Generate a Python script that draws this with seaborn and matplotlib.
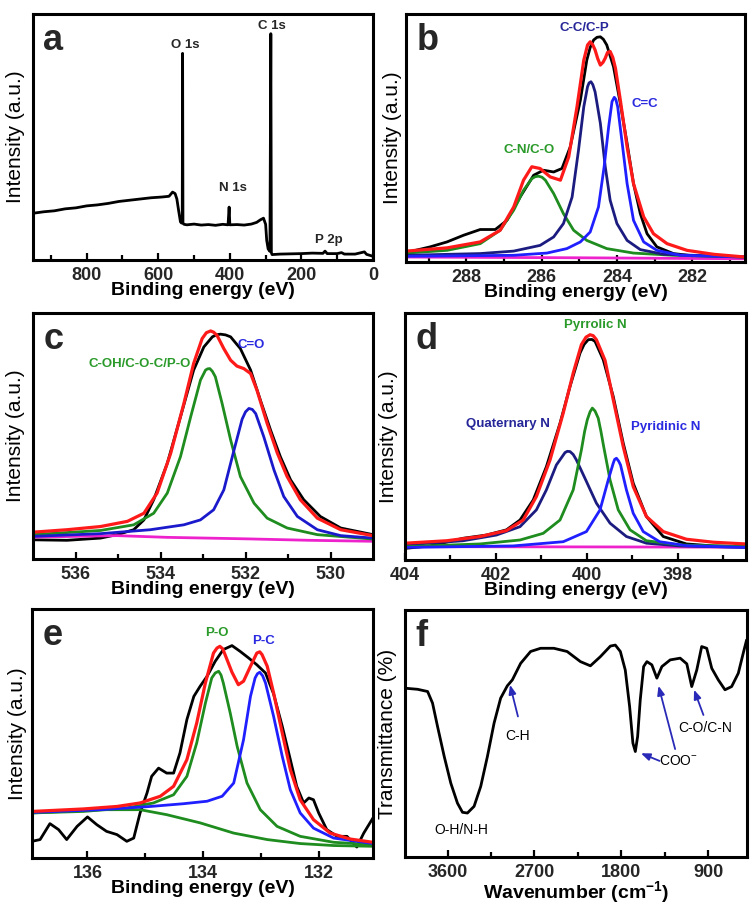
import matplotlib
matplotlib.use("Agg")
import matplotlib.pyplot as plt
import seaborn as sns

# ---------------- data (y in % of panel height) -------------
# (a) survey spectrum
A_X = [950, 920, 890, 860, 830, 800, 770, 740, 710, 680, 650, 620, 590, 570, 560, 553, 548,
       543, 538, 535, 533, 532, 531, 528, 520, 500, 480, 460, 440, 420, 405, 402, 400, 380,
       360, 340, 325, 315, 306, 300, 297, 293, 288, 285.5, 284, 282, 260, 230, 200, 170,
       140, 134, 128, 100, 88, 80, 50, 24, 18, 0]
A_Y = [19.0, 19.6, 20.0, 20.8, 21.2, 22.0, 22.4, 23.0, 23.8, 24.3, 24.8, 25.3, 25.6, 25.9,
       27.6, 27.0, 24.8, 20.0, 15.5, 15.0, 15.2, 84.0, 15.0, 14.5, 14.3, 14.6, 14.2, 14.4,
       14.1, 14.5, 14.3, 21.5, 14.3, 14.4, 14.2, 14.6, 15.3, 16.3, 17.0, 14.5, 8.0, 4.5, 3.5,
       92.0, 3.0, 2.2, 2.4, 2.5, 2.6, 2.8, 2.7, 3.6, 2.6, 2.6, 3.0, 2.4, 2.4, 3.3, 2.3, 1.5]
A_LABELS = ["O 1s", "C 1s", "N 1s", "P 2p"]
A_LABEL_X = [524.8, 282.4, 392.4, 124]
A_LABEL_Y = [87.4, 95.1, 29.1, 8.1]

# (b) C 1s
B_DATA_X = [289.35, 288.96, 288.51, 288.07, 287.63, 287.23, 286.92, 286.57, 286.21, 285.95,
            285.68, 285.46, 285.24, 284.97, 284.80, 284.71, 284.62, 284.53, 284.44, 284.36,
            284.27, 284.09, 283.91, 283.73, 283.56, 283.38, 283.20, 282.94, 282.50, 281.88,
            280.59]
B_DATA_Y = [4.7, 6.1, 8.1, 10.8, 13.1, 13.1, 16.8, 26.2, 35.0, 37.0, 36.3, 37.7, 46.4, 65.3,
            81.4, 86.5, 89.5, 90.6, 90.8, 89.8, 87.5, 78.7, 63.9, 47.8, 31.6, 19.5, 11.4, 6.1,
            3.4, 2.3, 1.7]
B_FIT_X = [289.59, 288.51, 287.63, 287.10, 286.74, 286.48, 286.26, 286.04, 285.77, 285.50,
           285.28, 285.06, 284.88, 284.78, 284.71, 284.64, 284.58, 284.51, 284.44, 284.37,
           284.31, 284.25, 284.18, 284.11, 284.04, 283.91, 283.73, 283.56, 283.29, 283.03,
           282.67, 282.14, 281.43, 280.59]
B_FIT_Y = [4.4, 5.7, 8.1, 12.8, 22.2, 33.0, 38.4, 37.7, 34.3, 33.0, 42.4, 62.6, 81.4, 87.5,
           88.8, 87.5, 85.5, 82.0, 79.4, 80.5, 82.2, 84.5, 84.9, 82.5, 78.2, 65.3, 46.4, 31.6,
           18.2, 11.4, 7.4, 4.7, 3.1, 2.0]
B_CN_X = [289.59, 288.51, 287.63, 287.10, 286.74, 286.48, 286.26, 286.17, 286.08, 285.99,
          285.90, 285.68, 285.42, 285.15, 284.80, 284.27, 283.56, 282.50, 280.59]
B_CN_Y = [3.6, 4.7, 7.4, 12.8, 20.9, 28.9, 33.6, 34.4, 34.6, 34.2, 33.0, 27.6, 19.5, 12.8,
          8.7, 5.4, 3.6, 2.7, 2.0]
B_CC_X = [289.59, 287.63, 286.74, 286.04, 285.68, 285.42, 285.19, 285.02, 284.88, 284.78,
          284.74, 284.69, 284.64, 284.58, 284.44, 284.31, 284.18, 284.00, 283.73, 283.38,
          282.76, 280.59]
B_CC_Y = [2.7, 3.4, 4.4, 6.7, 10.1, 15.5, 26.2, 45.1, 62.6, 70.7, 72.2, 72.7, 71.5, 68.6,
          55.9, 38.4, 24.9, 15.5, 8.7, 5.0, 3.1, 2.0]
B_CEC_X = [289.59, 286.74, 285.86, 285.33, 284.97, 284.71, 284.49, 284.34, 284.22, 284.13,
           284.07, 284.03, 283.98, 283.87, 283.73, 283.56, 283.29, 282.94, 282.32, 280.59]
B_CEC_Y = [2.3, 2.7, 3.6, 5.4, 8.1, 12.1, 22.2, 38.4, 54.5, 64.7, 66.4, 65.6, 62.6, 49.1,
           31.6, 16.8, 8.1, 4.7, 2.7, 2.0]
B_BASE_X = [289.59, 285.0, 280.59]
B_BASE_Y = [2.0, 1.7, 1.3]
B_LABELS = ["C-C/C-P", "C=C", "C-N/C-O"]
B_LABEL_X = [284.87, 283.25, 286.32]
B_LABEL_Y = [94.2, 63.9, 45.1]

# (c) O 1s
C_DATA_X = [537.0, 536.20, 535.41, 535.02, 534.63, 534.39, 534.16, 533.84, 533.53, 533.22,
            532.98, 532.78, 532.69, 532.59, 532.47, 532.35, 532.12, 531.88, 531.65, 531.41,
            531.18, 530.94, 530.63, 530.24, 529.76, 529.0]
C_DATA_Y = [7.8, 7.6, 8.5, 9.9, 11.9, 15.9, 24.1, 38.9, 57.8, 76.8, 86.2, 90.3, 91.1, 91.4,
            91.1, 90.3, 85.5, 76.8, 64.6, 52.4, 41.6, 32.2, 24.1, 17.3, 12.6, 9.9]
C_FIT_X = [537.0, 536.20, 535.41, 534.78, 534.39, 534.08, 533.76, 533.45, 533.22, 533.02,
           532.92, 532.82, 532.75, 532.67, 532.51, 532.35, 532.20, 532.04, 531.88, 531.73,
           531.49, 531.25, 531.02, 530.71, 530.31, 529.76, 529.0]
C_FIT_Y = [10.9, 11.9, 13.2, 15.3, 18.6, 26.8, 43.0, 63.2, 79.5, 89.6, 92.0, 92.7, 92.2,
           90.9, 85.5, 80.8, 78.4, 77.4, 75.4, 68.6, 55.1, 43.0, 33.5, 24.1, 16.6, 11.9, 9.5]
C_COH_X = [537.0, 535.41, 534.63, 534.16, 533.84, 533.53, 533.29, 533.06, 532.94, 532.89,
           532.84, 532.78, 532.71, 532.55, 532.35, 532.12, 531.80, 531.49, 531.02, 530.31,
           529.0]
C_COH_Y = [9.9, 11.6, 13.9, 18.6, 26.8, 41.6, 57.8, 72.7, 76.8, 77.3, 77.4, 76.3, 74.1,
           63.2, 48.4, 33.5, 22.7, 16.6, 12.6, 9.9, 8.1]
C_CO_X = [537.0, 535.41, 534.24, 533.45, 533.06, 532.75, 532.51, 532.27, 532.08, 532.00,
          531.92, 531.84, 531.76, 531.57, 531.33, 531.10, 530.78, 530.31, 529.76, 529.0]
C_CO_Y = [9.2, 10.3, 11.9, 13.9, 15.9, 20.0, 28.1, 44.3, 56.8, 59.8, 61.2, 60.8, 59.1, 49.7,
          36.2, 25.4, 17.3, 11.9, 9.5, 8.5]
C_BASE_X = [537.0, 535.02, 533.84, 532.0, 530.5, 529.0]
C_BASE_Y = [8.9, 9.5, 8.8, 8.2, 7.6, 7.2]
C_LABELS = ["C=O", "C-OH/C-O-C/P-O"]
C_LABEL_X = [531.87, 534.49]
C_LABEL_Y = [86.9, 79.2]

# (d) N 1s
D_DATA_X = [404.0, 403.45, 402.72, 402.21, 401.77, 401.47, 401.18, 400.89, 400.59, 400.37,
            400.15, 400.06, 399.97, 399.89, 399.82, 399.64, 399.42, 399.20, 398.98, 398.69,
            398.32, 397.81, 397.22, 396.51]
D_DATA_Y = [4.7, 5.7, 8.8, 10.1, 12.2, 16.2, 24.3, 37.8, 55.4, 70.3, 83.8, 87.3, 89.2, 89.3,
            88.5, 81.1, 66.2, 47.3, 31.1, 17.6, 9.5, 6.5, 5.7, 5.4]
D_FIT_X = [404.0, 403.08, 402.35, 401.77, 401.40, 401.11, 400.81, 400.52, 400.30, 400.12,
           400.02, 399.93, 399.86, 399.79, 399.60, 399.42, 399.20, 398.98, 398.69, 398.32,
           397.81, 397.22, 396.51]
D_FIT_Y = [6.8, 7.8, 9.5, 11.9, 16.2, 25.7, 40.5, 59.5, 75.7, 87.2, 90.2, 91.2, 90.8, 89.2,
           80.8, 64.9, 45.9, 29.7, 17.6, 11.5, 8.4, 7.2, 6.5]
D_QUAT_X = [404.0, 402.72, 401.99, 401.47, 401.11, 400.89, 400.67, 400.48, 400.43, 400.37,
            400.30, 400.23, 400.01, 399.79, 399.49, 399.13, 398.69, 397.96, 396.51]
D_QUAT_Y = [6.1, 7.8, 10.1, 13.5, 20.3, 28.4, 38.5, 43.5, 44.0, 43.9, 42.7, 40.5, 31.8, 23.0,
            14.9, 9.5, 6.8, 5.7, 5.1]
D_PYRR_X = [404.0, 402.35, 401.47, 400.96, 400.59, 400.30, 400.12, 400.05, 399.99, 399.93,
            399.88, 399.82, 399.75, 399.69, 399.63, 399.49, 399.31, 399.05, 398.69, 397.96,
            396.51]
D_PYRR_Y = [5.4, 6.5, 8.1, 10.8, 16.2, 28.4, 44.6, 52.0, 56.8, 60.0, 61.5, 60.3, 57.4, 52.0,
            45.9, 32.4, 20.3, 12.2, 7.8, 6.1, 5.4]
D_PYRI_X = [404.0, 401.62, 400.52, 400.01, 399.71, 399.53, 399.42, 399.39, 399.35, 399.30,
            399.26, 399.13, 398.98, 398.76, 398.40, 397.81, 396.51]
D_PYRI_Y = [5.1, 5.7, 7.4, 11.5, 20.3, 32.4, 39.2, 40.7, 41.2, 40.0, 38.5, 28.4, 18.9, 11.5,
            7.4, 5.8, 5.1]
D_BASE_X = [404.0, 400.0, 396.51]
D_BASE_Y = [5.4, 5.3, 5.2]
D_LABELS = ["Pyrrolic N", "Quaternary N", "Pyridinic N"]
D_LABEL_X = [399.82, 401.73, 398.26]
D_LABEL_Y = [95.3, 55.1, 53.8]

# (e) P 2p
E_DATA_X = [136.96, 136.82, 136.65, 136.50, 136.36, 136.18, 136.00, 135.84, 135.67, 135.49,
            135.32, 135.20, 135.09, 134.97, 134.89, 134.77, 134.63, 134.51, 134.40, 134.28,
            134.16, 134.05, 133.93, 133.79, 133.65, 133.50, 133.36, 133.21, 133.07, 132.92,
            132.78, 132.63, 132.49, 132.38, 132.26, 132.17, 132.09, 132.00, 131.86, 131.68,
            131.51, 131.34, 131.22, 131.06]
E_DATA_Y = [6.7, 7.4, 13.8, 11.4, 7.4, 12.7, 16.5, 13.4, 10.7, 9.4, 6.7, 8.0, 18.1, 26.1,
            32.8, 36.1, 34.1, 34.1, 42.2, 55.6, 64.9, 69.0, 73.0, 79.0, 83.7, 85.3, 83.0, 80.3,
            77.6, 74.3, 65.9, 52.9, 39.5, 28.8, 22.1, 24.1, 23.4, 18.1, 11.4, 8.7, 8.7, 4.4,
            10.0, 16.1]
E_FIT_X = [136.96, 136.07, 135.49, 135.09, 134.74, 134.51, 134.28, 134.11, 133.96, 133.82,
           133.76, 133.71, 133.66, 133.62, 133.50, 133.39, 133.30, 133.18, 133.07, 133.02,
           132.98, 132.89, 132.78, 132.63, 132.49, 132.32, 132.09, 131.80, 131.45, 131.06]
E_FIT_Y = [18.7, 19.7, 20.7, 22.1, 24.8, 28.8, 39.5, 54.2, 70.3, 82.3, 84.3, 85.0, 84.0,
           81.7, 74.6, 69.6, 71.0, 77.0, 82.3, 82.8, 81.7, 77.0, 66.3, 50.2, 35.5, 23.4, 15.4,
           10.0, 7.6, 6.3]
E_PO_X = [136.96, 136.07, 135.32, 134.86, 134.51, 134.28, 134.11, 133.96, 133.85, 133.79,
          133.73, 133.69, 133.65, 133.53, 133.41, 133.24, 133.01, 132.72, 132.32, 131.74,
          131.06]
E_PO_Y = [18.1, 18.7, 20.1, 22.1, 25.4, 32.8, 46.2, 62.2, 72.3, 74.3, 75.0, 73.5, 70.3,
          58.2, 44.8, 30.1, 19.4, 12.7, 8.7, 6.3, 5.4]
E_PC_X = [136.96, 135.78, 134.91, 134.34, 133.93, 133.67, 133.47, 133.30, 133.18, 133.10,
          133.06, 133.02, 132.97, 132.92, 132.78, 132.63, 132.49, 132.32, 132.09, 131.74,
          131.06]
E_PC_Y = [18.3, 19.4, 20.7, 21.8, 22.8, 24.8, 30.1, 47.5, 64.9, 72.3, 74.0, 74.6, 73.2,
          70.3, 56.9, 40.8, 27.4, 18.1, 12.0, 8.0, 5.8]
E_BG_X = [136.96, 135.78, 135.09, 134.63, 134.05, 133.47, 132.89, 132.32, 131.74, 131.06]
E_BG_Y = [18.1, 19.4, 19.4, 17.4, 14.1, 10.0, 7.4, 5.8, 5.0, 4.7]
E_LABELS = ["P-O", "P-C"]
E_LABEL_X = [133.76, 132.95]
E_LABEL_Y = [90.4, 87.0]

# (f) FTIR
F_X = [4030, 3910, 3806, 3755, 3703, 3634, 3566, 3497, 3445, 3394, 3325, 3256, 3187, 3118,
       3050, 2981, 2929, 2843, 2740, 2637, 2499, 2362, 2224, 2121, 2018, 1914, 1863, 1811,
       1760, 1715, 1681, 1656, 1632, 1605, 1570, 1536, 1485, 1433, 1381, 1295, 1192, 1123,
       1072, 1020, 969, 917, 865, 797, 728, 659, 590, 539, 504]
F_Y = [68.3, 67.9, 67.0, 62.3, 52.8, 40.7, 29.9, 21.8, 18.1, 17.8, 20.5, 28.6, 40.7, 54.2,
       64.3, 69.3, 71.7, 78.4, 83.2, 84.5, 84.5, 83.2, 79.1, 77.4, 81.1, 85.4, 85.8, 83.2,
       75.7, 60.9, 46.1, 42.7, 48.8, 63.6, 77.1, 79.1, 77.8, 72.4, 77.1, 79.8, 80.5, 78.2,
       69.0, 75.7, 85.2, 84.5, 76.4, 71.7, 67.7, 69.0, 74.4, 82.5, 87.9]
F_LABELS = ["C-H", "O-H/N-H", "COO$^{-}$", "C-O/C-N"]
F_LABEL_X = [2878, 3462, 1209, 934]
F_LABEL_Y = [48.8, 11.1, 38.7, 52.2]
F_ARROW_TAIL_X = [2871, 1405, 1244, 951]
F_ARROW_TAIL_Y = [56.9, 38.9, 43.7, 57.5]
F_ARROW_HEAD_X = [2953, 1598, 1416, 1048]
F_ARROW_HEAD_Y = [69.7, 42.0, 69.3, 67.7]

# ---------------- style ----------------
sns.set_theme(style="white")
plt.rcParams["font.family"] = ["Liberation Sans", "DejaVu Sans"]
plt.rcParams["mathtext.fontset"] = "custom"
plt.rcParams["mathtext.rm"] = "Liberation Sans"
plt.rcParams["mathtext.it"] = "Liberation Sans:italic"
plt.rcParams["mathtext.bf"] = "Liberation Sans:bold"

BLACK = "#000000"
RED = "#ff1a1a"
GREEN = "#1e8c1e"
NAVY = "#1c1c80"
BLUE = "#1f1fff"
MAGENTA = "#ee22cc"
T_GREEN = "#2a9a2a"
T_NAVY = "#262699"
T_BLUE = "#2a2ae0"
ARROW = "#2a2ab8"

W, H = 756, 911
fig = plt.figure(figsize=(W / 100, H / 100), dpi=100)


def add_ax(left, right, top, bottom):
    return fig.add_axes([left / W, 1 - bottom / H, (right - left) / W, (bottom - top) / H])


def line(ax, xs, ys, color, lw=2.0):
    sns.lineplot(x=xs, y=ys, ax=ax, color=color, lw=lw, estimator=None, sort=False,
                 legend=False, solid_joinstyle="round", solid_capstyle="round")


def style(ax, xlim, major, minor, xlabel, ylabel, letter, ylab_x, xlab_y=-0.09):
    ax.set_xlim(*xlim)
    ax.set_ylim(0, 100)
    ax.set_yticks([])
    ax.set_xticks(major, labels=[str(t) for t in major], fontweight="bold", fontsize=13)
    ax.set_xticks(minor, minor=True)
    ax.tick_params(axis="x", which="both", direction="in", bottom=True, top=False,
                   width=1.6, color="black", pad=5)
    ax.tick_params(axis="x", which="major", length=5)
    ax.tick_params(axis="x", which="minor", length=3.5)
    for s in ax.spines.values():
        s.set_color("black")
        s.set_linewidth(2.2)
    ax.set_xlabel(xlabel, fontsize=14, fontweight="bold", color="black")
    ax.xaxis.set_label_coords(0.5, xlab_y)
    ax.set_ylabel(ylabel, fontsize=15, color="black")
    ax.yaxis.set_label_coords(ylab_x, 0.5)
    ax.text(0.03, 0.855, letter, transform=ax.transAxes, fontsize=26, fontweight="bold",
            ha="left", va="baseline")


BE = "Binding energy (eV)"
INT = "Intensity (a.u.)"

# ---- (a)
ax = add_ax(33, 373, 14, 260)
line(ax, A_X, A_Y, BLACK, 2.0)
for t, x, y in zip(A_LABELS, A_LABEL_X, A_LABEL_Y):
    ax.text(x, y, t, fontsize=9.5, fontweight="bold", ha="center", va="center")
style(ax, (950, 0), [800, 600, 400, 200, 0], [900, 700, 500, 300, 100], BE, INT, "a", -0.024)

# ---- (b)
ax = add_ax(406, 745, 14, 262)
line(ax, B_DATA_X, B_DATA_Y, BLACK)
line(ax, B_BASE_X, B_BASE_Y, MAGENTA)
line(ax, B_CN_X, B_CN_Y, GREEN)
line(ax, B_CC_X, B_CC_Y, NAVY)
line(ax, B_CEC_X, B_CEC_Y, BLUE)
line(ax, B_FIT_X, B_FIT_Y, RED, 2.3)
for t, x, y, c in zip(B_LABELS, B_LABEL_X, B_LABEL_Y, [T_NAVY, T_BLUE, T_GREEN]):
    ax.text(x, y, t, fontsize=9.5, fontweight="bold", ha="center", va="center", color=c)
style(ax, (289.6, 280.6), [288, 286, 284, 282], [289, 287, 285, 283, 281], BE, INT, "b",
      -0.012)

# ---- (c)
ax = add_ax(33, 373, 313, 559)
line(ax, C_DATA_X, C_DATA_Y, BLACK)
line(ax, C_BASE_X, C_BASE_Y, MAGENTA)
line(ax, C_COH_X, C_COH_Y, GREEN)
line(ax, C_CO_X, C_CO_Y, "#1a1acc")
line(ax, C_FIT_X, C_FIT_Y, RED, 2.3)
for t, x, y, c in zip(C_LABELS, C_LABEL_X, C_LABEL_Y, [T_BLUE, T_GREEN]):
    ax.text(x, y, t, fontsize=9.5, fontweight="bold", ha="center", va="center", color=c)
style(ax, (537, 529), [536, 534, 532, 530], [535, 533, 531], BE, INT, "c", -0.024)

# ---- (d)
ax = add_ax(405, 746, 313, 560)
line(ax, D_DATA_X, D_DATA_Y, BLACK)
line(ax, D_BASE_X, D_BASE_Y, MAGENTA)
line(ax, D_QUAT_X, D_QUAT_Y, NAVY)
line(ax, D_PYRR_X, D_PYRR_Y, GREEN)
line(ax, D_PYRI_X, D_PYRI_Y, BLUE)
line(ax, D_FIT_X, D_FIT_Y, RED, 2.3)
for t, x, y, c in zip(D_LABELS, D_LABEL_X, D_LABEL_Y, [T_GREEN, T_NAVY, T_BLUE]):
    ax.text(x, y, t, fontsize=9.5, fontweight="bold", ha="center", va="center", color=c)
style(ax, (404, 396.5), [404, 402, 400, 398], [403, 401, 399, 397], BE, INT, "d", -0.02)

# ---- (e)
ax = add_ax(32, 373, 609, 858)
line(ax, E_DATA_X, E_DATA_Y, BLACK)
line(ax, E_BG_X, E_BG_Y, GREEN)
line(ax, E_PO_X, E_PO_Y, GREEN)
line(ax, E_PC_X, E_PC_Y, BLUE)
line(ax, E_FIT_X, E_FIT_Y, RED, 2.3)
for t, x, y, c in zip(E_LABELS, E_LABEL_X, E_LABEL_Y, [T_GREEN, T_BLUE]):
    ax.text(x, y, t, fontsize=9.5, fontweight="bold", ha="center", va="center", color=c)
style(ax, (136.96, 131.06), [136, 134, 132], [135, 133], BE, INT, "e", -0.015)

# ---- (f)
ax = add_ax(405, 747, 610, 857)
line(ax, F_X, F_Y, BLACK)
for t, x, y in zip(F_LABELS, F_LABEL_X, F_LABEL_Y):
    ax.text(x, y, t, fontsize=10, ha="center", va="center", color="black")
for tx, ty, hx, hy in zip(F_ARROW_TAIL_X, F_ARROW_TAIL_Y, F_ARROW_HEAD_X, F_ARROW_HEAD_Y):
    ax.annotate("", xy=(hx, hy), xytext=(tx, ty),
                arrowprops=dict(arrowstyle="-|>,head_length=0.45,head_width=0.18",
                                color=ARROW, lw=1.3, shrinkA=0, shrinkB=0))
style(ax, (4040, 500), [3600, 2700, 1800, 900], [3150, 2250, 1350],
      r"Wavenumber (cm$^{\mathbf{-1}}$)", "Transmittance (%)", "f", -0.024)

fig.savefig("out.png", dpi=100)
